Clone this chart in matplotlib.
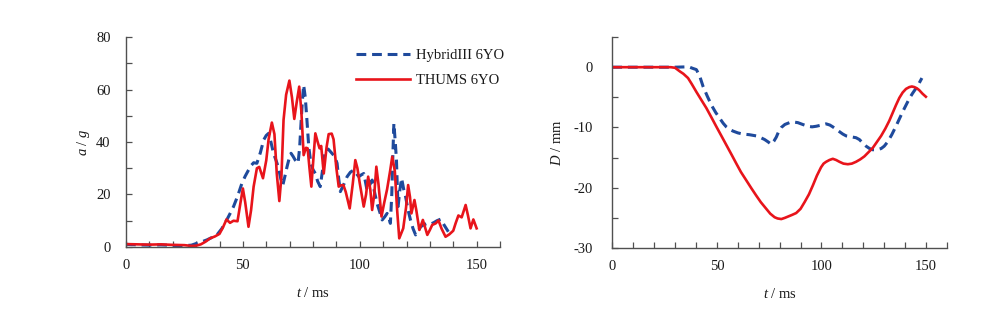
import matplotlib
matplotlib.use("Agg")
import matplotlib.pyplot as plt
from matplotlib.ticker import MultipleLocator

plt.rcParams['font.family'] = ['Liberation Serif', 'DejaVu Serif']
plt.rcParams['mathtext.fontset'] = 'custom'
plt.rcParams['mathtext.rm'] = 'Liberation Serif'
plt.rcParams['mathtext.it'] = 'Liberation Serif:italic'
plt.rcParams['axes.unicode_minus'] = False

# Head acceleration, THUMS 6YO (t in ms, a in g)
thums_acc_t = [0, 5, 10, 15, 20, 25, 28, 30, 32, 34, 36, 38, 40, 41.5, 43, 44.5, 46, 47.7, 49, 50,
               51, 52.4, 53.5, 54.6, 56, 57, 58.6, 60, 61, 62.4, 63.5, 64.5, 65.6, 66.5, 67.4, 68.5,
               69.9, 71, 72, 73, 74.1, 75, 76, 77, 77.7, 78.5, 79.3, 80.2, 81, 82, 82.8, 83.5, 84.6,
               85.8, 86.7, 88, 88.8, 90, 91, 92, 93, 94, 95.7, 97, 98.1, 99, 100, 101.7, 102.7, 103.6,
               104.5, 105.3, 106.2, 107.1, 108, 109.3, 110.5, 111.7, 113, 113.9, 115, 116, 116.9,
               118.6, 119.8, 120.7, 121.5, 122.1, 123.4, 124.2, 125.5, 127, 128.9, 130, 131, 132.5,
               133.7, 135, 136.7, 138.3, 140, 141, 142.2, 143.6, 145.3, 146.3, 147.4, 148.6, 150]
thums_acc = [1.1, 1.0, 0.9, 1.0, 0.8, 0.7, 0.4, 0.5, 1.0, 2.0, 3.3, 4.0, 5.0, 7.5, 10.5, 9.2, 10, 9.8,
             17, 22.3, 17, 7.7, 14, 23, 30, 30.5, 26.2, 33, 41, 47.4, 43, 28, 17.5, 27, 48.4, 58,
             63.4, 57, 48.8, 55, 61.1, 52, 35, 37.8, 37.6, 30, 23, 34, 43.3, 40, 37.6, 38.5, 28,
             38, 43, 43.2, 41, 30, 23, 23.5, 23.6, 21, 14.7, 24, 33.1, 30, 24.3, 15.4, 20, 26.8,
             22, 14.1, 20, 30.6, 24, 11.6, 17, 22, 29, 34.4, 29, 14, 3.3,
             7.1, 15, 23.6, 19, 12.8, 17.9, 14, 6.5, 10.3, 4.6, 6.5, 8.4, 9,
             10.1, 7, 3.9, 4.8, 6.2, 9, 12, 11.3, 16, 12, 7.1, 10.5, 7.1]

# Head acceleration, HybridIII 6YO
hybrid_acc_t = [0, 5, 10, 15, 20, 25, 28, 30.3, 32.5, 34.6, 36.7, 38.9, 41, 43.1, 44.5, 46, 47.8, 49.6,
                51, 52.4, 53.5, 54.6, 56, 57.5, 58.9, 60, 61, 62, 63.1, 64.2, 65.3, 66.2, 67.1, 68,
                68.9, 70, 70.6, 71.5, 72.4, 73.6, 74.3, 74.8, 75.4, 76, 76.7, 77.4, 78.2, 79.1, 80,
                81, 82, 83.1, 84.2, 85.3, 86.5, 88.1, 89.3, 90.3, 91, 91.7, 93, 94.6, 96, 97.4, 98.5,
                99.6, 100.7, 101.7, 102.4, 103.1, 104.2, 105.3, 106.3, 107.4, 108.5, 109.6, 110.7,
                111.7, 112.5, 113.1, 113.7, 114.2, 114.6, 115.2, 115.7, 116.1, 116.4, 117.2, 117.9,
                118.8, 119.6, 120.7, 121.7, 122.8, 123.9, 125, 126, 127.5, 128.9, 130.3, 131.7, 133,
                134.6, 136, 137.9]
hybrid_acc = [1.0, 0.8, 0.7, 0.8, 0.6, 0.5, 0.7, 1.4, 2.0, 2.7, 3.6, 4.6, 7, 10.3, 12.7, 15.4, 19.5, 24.3,
              27, 29.3, 31, 32.1, 31.9, 36, 40.8, 42.5, 43.3, 40, 35.7, 33, 30, 26, 23.6, 27,
              30.6, 34.5, 35.7, 34.5, 33.1, 31.9, 38, 46, 55, 61.7, 57, 48.4, 38, 31.9, 29.5,
              28, 25, 23, 30, 37, 37.3, 35.7, 34.5, 31.9, 26, 21.1, 23.5, 26.8, 28.5, 29.3, 28,
              26.8, 27.5, 28, 25, 21.7, 23.5, 25.5, 21, 16.6, 13.5, 10.3, 11.5,
              12.8, 11, 9, 20, 36, 47.1, 40, 33.1, 22, 15.4, 22, 26.2,
              22, 19.2, 14, 10.3, 7, 4.6, 6, 7.7, 8.5, 9, 8.7, 9.3, 10,
              10.6, 8.5, 5.8]

# Chest deflection, THUMS 6YO (t in ms, D in mm)
thums_def_t = [0, 10, 20, 28, 30, 32.3, 34, 36.2, 38, 40.2, 42.5, 45, 47.5, 49.8, 52, 54.5, 57, 59.3,
               61.5, 64.1, 66.5, 68.8, 71, 73.6, 75.5, 77.6, 79, 80.8, 82.5, 83.9, 86, 87.9, 90, 91.9,
               94, 95.9, 97.8, 99.8, 101, 102.2, 103.8, 105.4, 107, 108.6, 110.5, 112.6, 114.5, 116.5,
               118.5, 120.5, 122.5, 124.5, 126.5, 128.5, 130.5, 132.4, 134, 135.6, 137.2, 138.8,
               140.4, 142, 143.2, 144.4, 145.6, 146.7, 148.3, 149.9]
thums_def = [0, 0, 0, 0, -0.1, -0.7, -1.1, -1.8, -2.8, -4.1, -5.4, -6.8, -8.4, -9.9, -11.3, -12.9, -14.5, -16,
             -17.4, -18.8, -20.1, -21.3, -22.4, -23.5, -24.3, -24.9, -25.1, -25.2, -25, -24.8, -24.5, -24.2, -23.5, -22.4,
             -21.1, -19.6, -18, -16.6, -16.0, -15.7, -15.4, -15.2, -15.4, -15.7, -16, -16.1, -16, -15.7,
             -15.3, -14.8, -14.1, -13.4, -12.4, -11.4, -10.2, -8.9, -7.6, -6.3, -5.1, -4.2,
             -3.6, -3.3, -3.2, -3.3, -3.5, -3.8, -4.4, -4.9]

# Chest deflection, HybridIII 6YO
hybrid_def_t = [0, 10, 20, 30, 35, 37, 38.5, 40.2, 41.8, 43.4, 45.4, 47.4, 49.4, 51.4, 53, 54.5, 56, 57.7,
                60, 62.5, 65.5, 68.8, 71, 72.8, 74.5, 76, 77.2, 78.4, 79.5, 80.8, 82.5, 84.7, 86.7, 88.7,
                91, 93.5, 95.5, 97.5, 100, 102.2, 104, 105.4, 107, 108.6, 110.2, 111.8, 113.5, 114.9,
                116.5, 118.1, 119.8, 121.3, 123, 124.5, 126.5, 128.5, 130, 131.6, 133.6, 135.6, 137.2,
                138.8, 140.4, 142, 143.6, 145.2, 146.6, 148]
hybrid_def = [0, 0, 0, 0, 0.05, 0, -0.2, -0.4, -1.5, -3.2, -4.8, -6.3, -7.5, -8.5, -9.3, -9.9, -10.3, -10.6,
              -10.9, -11.1, -11.2, -11.4, -11.7, -12, -12.4, -12.8, -12.3, -11.6, -10.7, -10, -9.5, -9.2, -9.1, -9.2,
              -9.5, -9.8, -9.9, -9.8, -9.6, -9.4, -9.6, -9.9, -10.3, -10.7, -11.1, -11.4, -11.5, -11.6,
              -11.7, -12, -12.6, -13.1, -13.5, -13.7, -13.7, -13.5, -13.1, -12.4, -11.2, -9.8, -8.6,
              -7.4, -6.3, -5.2, -4.3, -3.5, -2.7, -1.8]

labels = ['HybridIII 6YO', 'THUMS 6YO']
blue = '#1f4a9c'
red = '#e8141b'
spine_col = '#505050'
text_col = '#1a1a1a'
fs = 10.5

fig = plt.figure(figsize=(10, 3.24), dpi=100)
ax1 = fig.add_axes([0.126, 0.2377, 0.374, 0.648])
ax2 = fig.add_axes([0.6123, 0.2346, 0.3347, 0.651])

dash_kw = dict(color=blue, lw=2.2, linestyle=(0, (3.2, 1.9)), solid_joinstyle='round')
solid_kw = dict(color=red, lw=1.9, solid_joinstyle='round')

ax1.plot(hybrid_acc_t, hybrid_acc, label=labels[0], **dash_kw)
ax1.plot(thums_acc_t, thums_acc, label=labels[1], **solid_kw)
ax2.plot(hybrid_def_t, hybrid_def, **dash_kw)
ax2.plot(thums_def_t, thums_def, **solid_kw)

ax1.set_xlim(0, 160)
ax1.set_ylim(0, 80)
ax1.yaxis.set_major_locator(MultipleLocator(20))
ax1.yaxis.set_minor_locator(MultipleLocator(10))
ax2.set_xlim(0, 160)
ax2.set_ylim(-30, 5)
ax2.yaxis.set_major_locator(MultipleLocator(10))
ax2.yaxis.set_minor_locator(MultipleLocator(5))

for ax, ypad in ((ax1, 11), (ax2, 14)):
    ax.xaxis.set_major_locator(MultipleLocator(50))
    ax.xaxis.set_minor_locator(MultipleLocator(10))
    for side in ('top', 'right'):
        ax.spines[side].set_visible(False)
    for side in ('left', 'bottom'):
        ax.spines[side].set_color(spine_col)
        ax.spines[side].set_linewidth(1.0)
    ax.tick_params(which='both', direction='in', length=4, width=0.9, color=spine_col,
                   labelsize=fs, labelcolor=text_col)
    ax.tick_params(axis='x', which='major', pad=9)
    ax.tick_params(axis='y', which='major', pad=ypad)
    ax.set_xlabel(r'$t$ / ms', fontsize=fs, labelpad=10, color=text_col)

ax1.set_ylabel(r'$a$ / $g$', fontsize=fs, labelpad=3, color=text_col)
ax2.set_ylabel(r'$D$ / mm', fontsize=fs, labelpad=7, color=text_col)

leg = ax1.legend(loc='upper left', bbox_to_anchor=(0.353, 0.858), bbox_transform=fig.transFigure,
                 frameon=False, fontsize=fs, handlelength=3.7, handletextpad=0.45,
                 labelspacing=0.8, borderpad=0.2, borderaxespad=0)
for txt in leg.get_texts():
    txt.set_color(text_col)

fig.savefig('out.png', dpi=100)
